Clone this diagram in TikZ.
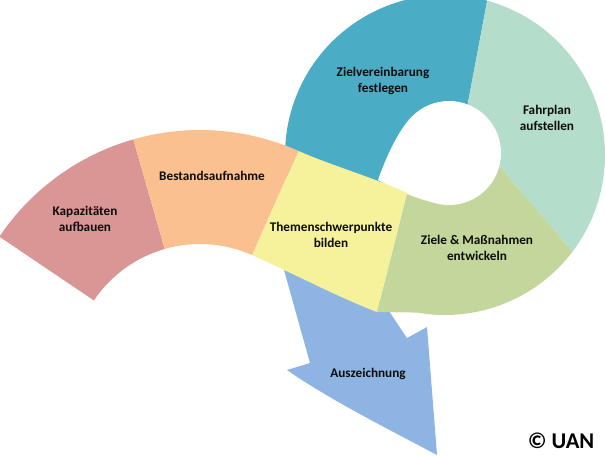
\documentclass[tikz,border=0pt]{standalone}
\usepackage{fontspec}
\setmainfont{Carlito}
\usetikzlibrary{calc}
\definecolor{kapared}{HTML}{D99694}
\definecolor{bestandorange}{HTML}{FAC090}
\definecolor{themenyellow}{HTML}{F6F19B}
\definecolor{zielegreen}{HTML}{C3D69B}
\definecolor{fahrplanmint}{HTML}{B5DDCB}
\definecolor{zielverblue}{HTML}{4BACC6}
\definecolor{auszblue}{HTML}{8EB4E3}
\tikzset{
  band/.style = {
    fill = #1,
    draw = none
  },
  steptext/.style = {
    font = \bfseries\fontsize{9.4}{11.2}\selectfont,
    align = center,
    text = black!95
  },
  copytext/.style = {
    font = \bfseries\fontsize{16}{18}\selectfont,
    text = black
  },
}

\begin{document}
\begin{tikzpicture}[x = 0.025cm, y = -0.025cm]
  \useasboundingbox (0,0) rectangle (605,456);
  \clip (0,0) rectangle (605,456);
  \coordinate (L) at (200,372);
  \coordinate (C) at (445,155);
  \coordinate (H) at (449,153);
  % Pfeil nach unten
  \fill[band = auszblue] (277,245) -- (310,363) -- (287,370)
    .. controls (330,400) and (390,430) .. (437,455) -- (427,327)
    -- (407,338) -- (385,305) -- cycle;
  % Ring
  \fill[band = zielverblue] ($(C)+(-74.7:160)$)
    arc[start angle = -74.7, end angle = -190, radius = 160]
    -- (360,215) -- (410,185) -- (460,145) -- cycle;
  \fill[band = fahrplanmint] ($(C)+(-74.7:160)$)
    arc[start angle = -74.7, end angle = 37.2, radius = 160]
    -- (481,145) -- (460,145) -- cycle;
  \fill[band = zielegreen] ($(C)+(37.2:160)$)
    arc[start angle = 37.2, end angle = 100, radius = 160]
    -- (377,312) -- (407,193) -- (440,165) -- (481,145) -- cycle;
  % Loch
  \fill[white] (378,180) .. controls (385,160) and (398,130) .. ($(H)+(-135:52)$)
    arc[start angle = -135, end angle = 100, radius = 52]
    .. controls (420,200) and (395,190) .. (378,180) -- cycle;
  % Bogen links
  \fill[band = kapared] ($(L)+(-146:242)$)
    arc[start angle = -146, end angle = -106, radius = 242]
    -- ($(L)+(-106:128)$)
    arc[start angle = -106, end angle = -146, radius = 128] -- cycle;
  \fill[band = bestandorange] ($(L)+(-106:242)$)
    arc[start angle = -106, end angle = -66, radius = 242]
    -- ($(L)+(-66:128)$)
    arc[start angle = -66, end angle = -106, radius = 128] -- cycle;
  \fill[band = themenyellow] ($(L)+(-66:242)$)
    .. controls (330,165) and (375,178) .. (407,193) -- (377,312)
    .. controls (340,298) and (290,272) .. ($(L)+(-66:128)$) -- cycle;
  % Texte
  \node[steptext] (kapa) at (85,219) {Kapazitäten\\aufbauen};
  \node[steptext] (bestand) at (212,176) {Bestandsaufnahme};
  \node[steptext] (themen) at (331,235) {Themenschwerpunkte\\bilden};
  \node[steptext] (ziele) at (477,248) {Ziele \& Maßnahmen\\entwickeln};
  \node[steptext] (fahrplan) at (547,118) {Fahrplan\\aufstellen};
  \node[steptext] (zielver) at (383,81) {Zielvereinbarung\\festlegen};
  \node[steptext] (ausz) at (368,374) {Auszeichnung};
  \node[copytext] (copy) at (561,441) {© UAN};
\end{tikzpicture}
\end{document}
